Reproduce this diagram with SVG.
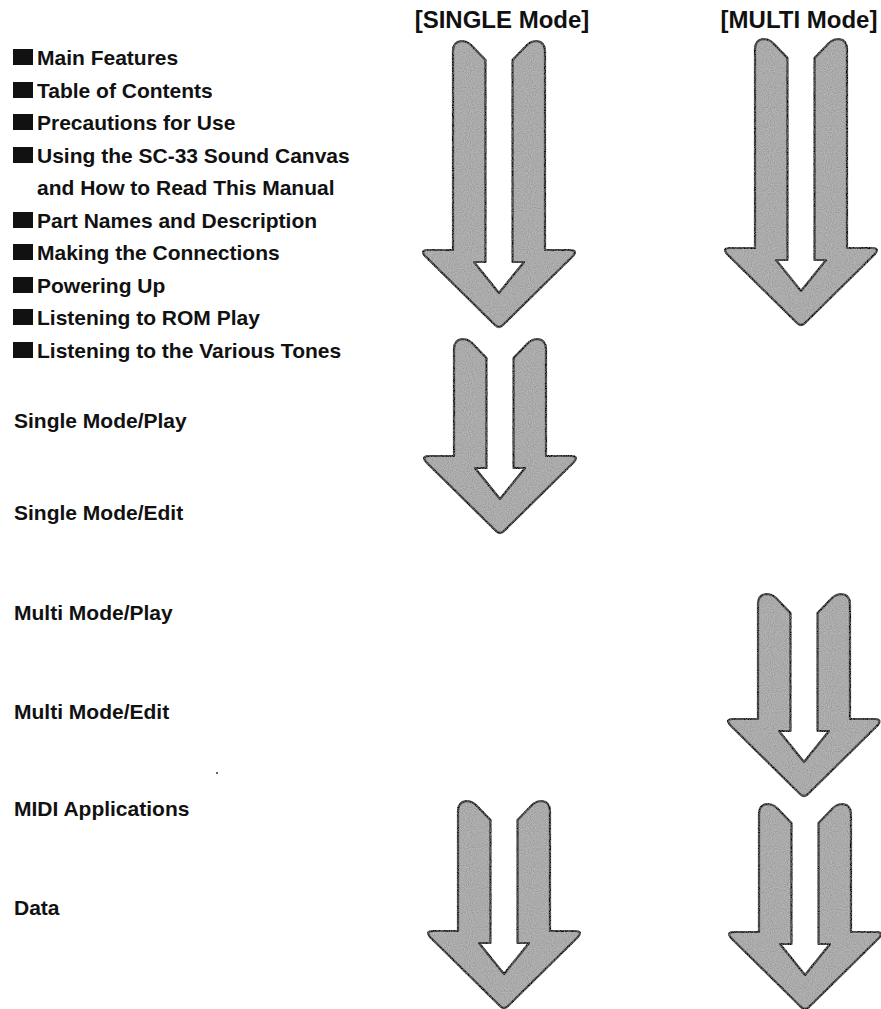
<svg xmlns="http://www.w3.org/2000/svg" width="881" height="1009" viewBox="0 0 881 1009">
<style>
.t{font-family:"Liberation Sans",Arial,sans-serif;font-weight:bold;font-size:21px;fill:#111}
.h{font-family:"Liberation Sans",Arial,sans-serif;font-weight:bold;font-size:24px;fill:#111}
.sq{fill:#111}
.arrow{fill:#b4b4b4;stroke:#111;stroke-width:2.2;stroke-linejoin:round;filter:url(#grain)}
</style>
<defs>
<filter id="grain" x="-5%" y="-5%" width="110%" height="110%">
<feTurbulence type="fractalNoise" baseFrequency="0.95" numOctaves="1" seed="4" result="n"/>
<feColorMatrix in="n" type="matrix" values="0 0 0 0 0.25  0 0 0 0 0.25  0 0 0 0 0.25  1.6 0 0 0 -0.55" result="dots"/>
<feComposite in="dots" in2="SourceGraphic" operator="atop"/>
</filter>
</defs>
<rect width="881" height="1009" fill="#fff"/>
<g id="headers">
<text class="h" x="502" y="28" text-anchor="middle">[SINGLE Mode]</text>
<text class="h" x="799" y="28" text-anchor="middle">[MULTI Mode]</text>
</g>
<g id="intro-list">
<g id="item-main-features"><rect class="sq" x="13" y="49" width="20" height="16"/><text class="t" x="37" y="65">Main Features</text></g>
<g id="item-toc"><rect class="sq" x="13" y="82" width="20" height="16"/><text class="t" x="37" y="98">Table of Contents</text></g>
<g id="item-precautions"><rect class="sq" x="13" y="114" width="20" height="16"/><text class="t" x="37" y="130">Precautions for Use</text></g>
<g id="item-using"><rect class="sq" x="13" y="147" width="20" height="16"/><text class="t" x="37" y="163">Using the SC-33 Sound Canvas</text><text class="t" x="37" y="195">and How to Read This Manual</text></g>
<g id="item-part-names"><rect class="sq" x="13" y="212" width="20" height="16"/><text class="t" x="37" y="228">Part Names and Description</text></g>
<g id="item-connections"><rect class="sq" x="13" y="244" width="20" height="16"/><text class="t" x="37" y="260">Making the Connections</text></g>
<g id="item-powering"><rect class="sq" x="13" y="277" width="20" height="16"/><text class="t" x="37" y="293">Powering Up</text></g>
<g id="item-rom-play"><rect class="sq" x="13" y="309" width="20" height="16"/><text class="t" x="37" y="325">Listening to ROM Play</text></g>
<g id="item-tones"><rect class="sq" x="13" y="342" width="20" height="16"/><text class="t" x="37" y="358">Listening to the Various Tones</text></g>
</g>
<g id="chapters">
<g id="ch-single-play"><text class="t" x="14" y="428">Single Mode/Play</text></g>
<g id="ch-single-edit"><text class="t" x="14" y="520">Single Mode/Edit</text></g>
<g id="ch-multi-play"><text class="t" x="14" y="620">Multi Mode/Play</text></g>
<g id="ch-multi-edit"><text class="t" x="14" y="719">Multi Mode/Edit</text></g>
<g id="ch-midi"><text class="t" x="14" y="816">MIDI Applications</text></g>
<g id="ch-data"><text class="t" x="14" y="915">Data</text></g>
</g>
<g id="connectors">
<path id="arrow-single-1" class="arrow" d="M 485.5,60 L 471,45 Q 467,41 461,41 Q 453,42 453,51 L 453,250 L 428,250 Q 420,250 425,256 L 495,325 Q 499,329 503,325 L 573,256 Q 578,250 570,250 L 545,250 L 545,51 Q 545,42 537,41 Q 531,41 527,45 L 512.5,60 L 512.5,262 L 524,262 L 499,293 L 474,262 L 485.5,262 Z"/>
<path id="arrow-multi-1" class="arrow" d="M 787.5,58 L 773,43 Q 769,39 763,39 Q 755,40 755,49 L 755,248 L 730,248 Q 722,248 727,254 L 797,323 Q 801,327 805,323 L 875,254 Q 880,248 872,248 L 847,248 L 847,49 Q 847,40 839,39 Q 833,39 829,43 L 814.5,58 L 814.5,260 L 826,260 L 801,291 L 776,260 L 787.5,260 Z"/>
<path id="arrow-single-2" class="arrow" d="M 486.5,358 L 472,343 Q 468,339 462,339 Q 454,340 454,349 L 454,456 L 429,456 Q 421,456 426,462 L 496,531 Q 500,535 504,531 L 574,462 Q 579,456 571,456 L 546,456 L 546,349 Q 546,340 538,339 Q 532,339 528,343 L 513.5,358 L 513.5,468 L 525,468 L 500,499 L 475,468 L 486.5,468 Z"/>
<path id="arrow-multi-2" class="arrow" d="M 790.5,613 L 776,598 Q 772,594 766,594 Q 758,595 758,604 L 758,719 L 733,719 Q 725,719 730,725 L 800,794 Q 804,798 808,794 L 878,725 Q 882,719 875,719 L 850,719 L 850,604 Q 850,595 842,594 Q 836,594 832,598 L 817.5,613 L 817.5,731 L 829,731 L 804,762 L 779,731 L 790.5,731 Z"/>
<path id="arrow-single-3" class="arrow" d="M 490.5,820 L 476,805 Q 472,801 466,801 Q 458,802 458,811 L 458,931 L 433,931 Q 425,931 430,937 L 500,1006 Q 504,1010 508,1006 L 578,937 Q 583,931 575,931 L 550,931 L 550,811 Q 550,802 542,801 Q 536,801 532,805 L 517.5,820 L 517.5,943 L 529,943 L 504,974 L 479,943 L 490.5,943 Z"/>
<path id="arrow-multi-3" class="arrow" d="M 791.5,823 L 777,808 Q 773,804 767,804 Q 759,805 759,814 L 759,932 L 734,932 Q 726,932 731,938 L 801,1007 Q 805,1011 809,1007 L 879,938 Q 884,932 876,932 L 851,932 L 851,814 Q 851,805 843,804 Q 837,804 833,808 L 818.5,823 L 818.5,944 L 830,944 L 805,975 L 780,944 L 791.5,944 Z"/>
</g>
<circle cx="217" cy="773" r="1" fill="#333"/>
</svg>
